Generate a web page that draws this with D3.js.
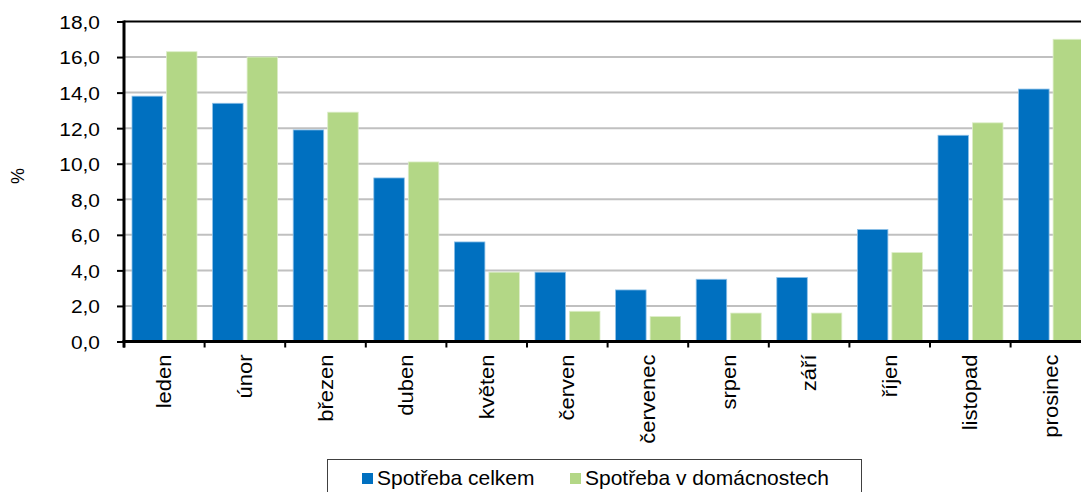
<!DOCTYPE html>
<html>
<head>
<meta charset="utf-8">
<script src="https://cdn.jsdelivr.net/npm/d3@7"></script>
<style>
  body { margin: 0; background: #fff; }
  svg { display: block; font-family: "Liberation Sans", Arial, sans-serif; }
</style>
</head>
<body>
<svg id="chart" width="1081" height="492"></svg>
<script>
// monthly share of consumption (%)
var months = ["leden", "únor", "březen", "duben", "květen", "červen",
              "červenec", "srpen", "září", "říjen", "listopad", "prosinec"];
var celkem = [13.8, 13.4, 11.9, 9.2, 5.6, 3.9, 2.9, 3.5, 3.6, 6.3, 11.6, 14.2];
var domacnosti = [16.3, 16.0, 12.9, 10.1, 3.9, 1.7, 1.4, 1.6, 1.6, 5.0, 12.3, 17.0];
var seriesNames = ["Spotřeba celkem", "Spotřeba v domácnostech"];
var seriesColors = ["#0070c0", "#b3d786"];
var yTicks = [0, 2, 4, 6, 8, 10, 12, 14, 16, 18];

var svg = d3.select("#chart");
var plotLeft = 124, plotTop = 21.5, plotBottom = 341.5;
var bandW = 80.6;

var x = d3.scaleBand()
    .domain(months)
    .range([plotLeft, plotLeft + bandW * months.length])
    .padding(0);

var x1 = d3.scaleBand()
    .domain([0, 1])
    .range([8, bandW - 7.6])
    .paddingInner(0.116);

var y = d3.scaleLinear().domain([0, 18]).range([plotBottom, plotTop]);

var fmt = function(d) { return d3.format(".1f")(d).replace(".", ","); };

// gridlines
svg.append("g").selectAll("line")
    .data(yTicks.filter(function(d) { return d > 0; }))
    .join("line")
    .attr("x1", plotLeft).attr("x2", 1081)
    .attr("y1", function(d) { return y(d); })
    .attr("y2", function(d) { return y(d); })
    .attr("stroke", function(d) { return d === 18 ? "#000" : "#c0c0c0"; })
    .attr("stroke-width", 2);

// bars
var rows = months.map(function(m, i) { return { m: m, v: [celkem[i], domacnosti[i]] }; });

svg.append("g").selectAll("g")
    .data(rows)
    .join("g")
    .attr("transform", function(d) { return "translate(" + x(d.m) + ",0)"; })
    .selectAll("rect")
    .data(function(d) { return d.v.map(function(v, k) { return { k: k, v: v }; }); })
    .join("rect")
    .attr("x", function(d) { return x1(d.k); })
    .attr("width", x1.bandwidth())
    .attr("y", function(d) { return y(d.v); })
    .attr("height", function(d) { return y(0) - y(d.v); })
    .attr("fill", function(d) { return seriesColors[d.k]; })
    .attr("stroke", function(d) { return d.k === 0 ? "#8cc0e8" : "#dcedc8"; })
    .attr("stroke-width", 0.8);

// y axis
var yAxis = svg.append("g")
    .attr("transform", "translate(" + plotLeft + ",0)")
    .call(d3.axisLeft(y).tickValues(yTicks).tickSize(7).tickSizeOuter(0).tickFormat(fmt));
yAxis.select(".domain").attr("stroke", "#000").attr("stroke-width", 3)
    .attr("d", "M0," + (plotTop - 1) + "V" + (plotBottom + 6));
yAxis.selectAll(".tick line").attr("stroke", "#000").attr("stroke-width", 2);
yAxis.selectAll(".tick text")
    .attr("x", 0)
    .attr("dy", "0.36em")
    .attr("font-size", 19)
    .attr("fill", "#000")
    .attr("font-family", "Liberation Sans, Arial, sans-serif")
    .attr("transform", "translate(-24,0) scale(1.1,1)");

// x axis
var xAxis = svg.append("g")
    .attr("transform", "translate(0," + plotBottom + ")");
xAxis.append("line")
    .attr("x1", plotLeft - 1.5).attr("x2", 1081)
    .attr("y1", 0).attr("y2", 0)
    .attr("stroke", "#000").attr("stroke-width", 3);
xAxis.selectAll("line.tk")
    .data(d3.range(months.length + 1))
    .join("line")
    .attr("class", "tk")
    .attr("x1", function(i) { return plotLeft + i * bandW; })
    .attr("x2", function(i) { return plotLeft + i * bandW; })
    .attr("y1", 0).attr("y2", 6)
    .attr("stroke", "#000").attr("stroke-width", 2);
xAxis.selectAll("text")
    .data(months)
    .join("text")
    .attr("transform", function(d) {
        return "translate(" + (x(d) + x.bandwidth() / 2) + ",13) rotate(-90) scale(1.1,1)";
    })
    .attr("text-anchor", "end")
    .attr("dy", "0.35em")
    .attr("font-size", 20)
    .attr("fill", "#000")
    .text(function(d) { return d; });

// y label
svg.append("text")
    .attr("transform", "translate(18,176) rotate(-90)")
    .attr("text-anchor", "middle")
    .attr("dy", "0.35em")
    .attr("font-size", 18)
    .text("%");

// legend
var lg = svg.append("g");
lg.append("rect")
    .attr("x", 327.5).attr("y", 459.5)
    .attr("width", 534).attr("height", 40)
    .attr("fill", "#fff").attr("stroke", "#404040").attr("stroke-width", 1);
var legX = [362, 570];
seriesNames.forEach(function(name, k) {
    lg.append("rect")
        .attr("x", legX[k]).attr("y", 473)
        .attr("width", 11).attr("height", 11)
        .attr("fill", seriesColors[k]);
    lg.append("text")
        .attr("transform", "translate(" + (legX[k] + 15) + ",485) scale(1.05,1)")
        .attr("font-size", 20)
        .attr("fill", "#000")
        .text(name);
});
</script>
</body>
</html>
